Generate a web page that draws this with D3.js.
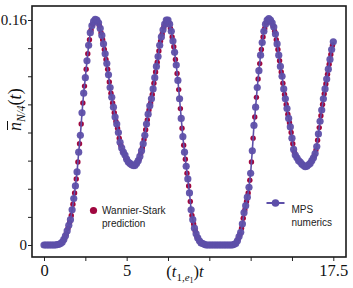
<!DOCTYPE html>
<html><head><meta charset="utf-8">
<script src="https://cdn.jsdelivr.net/npm/d3@7"></script>
<style>body{margin:0;background:#fff}svg{display:block}</style>
</head><body>
<svg id="c" width="353" height="288"></svg>
<script>
// ---- data ----
const tStep = 0.1;
const mpsStart = 0.0;
const wsStart = 0.05;
const mpsValues = [
0,0,0,0,0,0,0,0,0.0003,0.0005,
0.001,0.002,0.004,0.0065,0.010,0.014,0.018,0.025,0.033,0.042,
0.052,0.066,0.078,0.094,0.108,0.119,0.131,0.142,0.151,0.156,
0.159,0.1605,0.160,0.158,0.154,0.149,0.143,0.136,0.129,0.121,
0.112,0.105,0.098,0.091,0.086,0.080,0.073,0.069,0.066,0.064,
0.061,0.059,0.058,0.057,0.0565,0.0565,0.058,0.060,0.063,0.067,
0.072,0.078,0.086,0.093,0.099,0.104,0.111,0.119,0.127,0.134,
0.142,0.148,0.153,0.157,0.160,0.160,0.157,0.152,0.145,0.137,
0.128,0.117,0.104,0.090,0.077,0.066,0.056,0.047,0.037,0.025,
0.018,0.012,0.008,0.005,0.003,0.0015,0.001,0.0005,0,0,
0,0,0,0,0,0,0,0,0,0,
0,0,0,0,0,0.0005,0.001,0.003,0.006,0.009,
0.015,0.023,0.028,0.034,0.041,0.051,0.067,0.085,0.098,0.112,
0.124,0.135,0.144,0.152,0.157,0.160,0.161,0.160,0.158,0.155,
0.150,0.143,0.135,0.127,0.120,0.111,0.104,0.097,0.090,0.084,
0.076,0.068,0.064,0.062,0.060,0.059,0.0575,0.0565,0.0557,0.056,
0.057,0.058,0.060,0.062,0.065,0.070,0.079,0.088,0.096,0.104,
0.111,0.118,0.125,0.132,0.139,0.1445
];
const wsValues = [
0,0,0,0,0,0,0,0.0001,0.0004,0.0008,
0.0015,0.003,0.005,0.008,0.012,0.016,0.021,0.029,0.037,0.047,
0.059,0.072,0.086,0.101,0.113,0.125,0.136,0.146,0.153,0.157,
0.160,0.160,0.159,0.156,0.151,0.146,0.139,0.132,0.125,0.116,
0.108,0.101,0.094,0.088,0.083,0.076,0.071,0.067,0.065,0.062,
0.060,0.058,0.057,0.057,0.0565,0.057,0.059,0.061,0.065,0.069,
0.075,0.082,0.089,0.096,0.101,0.107,0.115,0.123,0.130,0.138,
0.145,0.150,0.155,0.158,0.160,0.158,0.154,0.148,0.141,0.132,
0.122,0.1105,0.097,0.083,0.071,0.061,0.051,0.042,0.031,0.021,
0.015,0.010,0.006,0.004,0.002,0.0012,0.0008,0.0002,0,0,
0,0,0,0,0,0,0,0,0,0,
0,0,0,0,0.0002,0.0008,0.002,0.0045,0.0075,0.012,
0.019,0.025,0.031,0.037,0.046,0.059,0.076,0.091,0.105,0.118,
0.129,0.139,0.148,0.154,0.158,0.160,0.160,0.159,0.156,0.152,
0.146,0.139,0.131,0.123,0.115,0.107,0.100,0.093,0.087,0.080,
0.072,0.066,0.063,0.061,0.0595,0.058,0.057,0.056,0.0558,0.0565,
0.0575,0.059,0.061,0.0635,0.0675,0.0745,0.0835,0.092,0.100,0.1075,
0.1145,0.1215,0.1285,0.1355,0.142
];
const xTicks = [0, 2.5, 5, 7.5, 10, 12.5, 15, 17.5];
const xTickLabels = ["0", "", "5", "", "", "", "", "17.5"];
const yTicks = [0, 0.02, 0.04, 0.06, 0.08, 0.10, 0.12, 0.14, 0.16];
const yTickLabels = ["0", "", "", "", "", "", "", "", "0.16"];
const legendLabels = [["Wannier-Stark", "prediction"], ["MPS", "numerics"]];

// ---- styles ----
const BLUE = "#5d4fa9";
const RED = "#a0073f";
const serif = "'Liberation Serif','DejaVu Serif',serif";
const sans = "'Liberation Sans',Arial,sans-serif";

const svg = d3.select("#c");
const frame = {l: 32, t: 6, r: 346, b: 257};
const x = d3.scaleLinear().domain([0, 17.5]).range([44, 333.3]);
const y = d3.scaleLinear().domain([0, 0.16]).range([245, 20]);

const mps = mpsValues.map((v, i) => ({t: mpsStart + i * tStep, v}));
const ws = wsValues.map((v, i) => ({t: wsStart + i * tStep, v}));

// axes
const xAxis = d3.axisBottom(x).tickValues(xTicks).tickSize(4).tickSizeOuter(0)
  .tickFormat((d, i) => xTickLabels[i]);
const gx = svg.append("g").attr("transform", `translate(0,${frame.b})`).call(xAxis);
gx.select(".domain").remove();
gx.selectAll("line").attr("stroke", "#222").attr("stroke-width", 1);
gx.selectAll("text").attr("font-family", serif).attr("font-size", 16.5).attr("fill", "#111").attr("dy", "0.71em").attr("y", 7);

const yAxis = d3.axisLeft(y).tickValues(yTicks).tickSize(4).tickSizeOuter(0)
  .tickFormat((d, i) => yTickLabels[i]);
const gy = svg.append("g").attr("transform", `translate(${frame.l},0)`).call(yAxis);
gy.select(".domain").remove();
gy.selectAll("line").attr("stroke", "#222").attr("stroke-width", 1);
gy.selectAll("text").attr("font-family", serif).attr("font-size", 15).attr("fill", "#111").attr("x", -5);

// frame
svg.append("rect").attr("x", frame.l).attr("y", frame.t)
  .attr("width", frame.r - frame.l).attr("height", frame.b - frame.t)
  .attr("fill", "none").attr("stroke", "#1a1a1a").attr("stroke-width", 1.6);

// data
const plot = svg.append("g");
plot.selectAll("circle.ws").data(ws).join("circle").attr("class", "ws")
  .attr("cx", d => x(d.t)).attr("cy", d => y(d.v)).attr("r", 2.7).attr("fill", RED);
plot.append("path").datum(mps)
  .attr("d", d3.line().x(d => x(d.t)).y(d => y(d.v)))
  .attr("fill", "none").attr("stroke", BLUE).attr("stroke-width", 1.6);
plot.selectAll("circle.mps").data(mps).join("circle").attr("class", "mps")
  .attr("cx", d => x(d.t)).attr("cy", d => y(d.v)).attr("r", 3.6).attr("fill", BLUE).attr("fill-opacity", 0.95);

// x title
const xt = svg.append("text").attr("x", 185).attr("y", 277).attr("text-anchor", "middle")
  .attr("font-family", serif).attr("font-size", 16.5).attr("fill", "#111");
xt.append("tspan").text("(");
xt.append("tspan").attr("font-style", "italic").text("t");
xt.append("tspan").attr("font-size", 11).attr("dy", 4).text("1,");
xt.append("tspan").attr("font-size", 11).attr("font-style", "italic").text("e");
xt.append("tspan").attr("font-size", 8).attr("dy", 2).text("1");
xt.append("tspan").attr("dy", -6).text(")");
xt.append("tspan").attr("font-style", "italic").text("t");

// y title (rotated)
const yg = svg.append("g").attr("transform", "translate(21,131) rotate(-90)");
const yt = yg.append("text").attr("x", 0).attr("y", 0)
  .attr("font-family", serif).attr("font-size", 18).attr("fill", "#111");
yt.append("tspan").attr("font-style", "italic").text("n");
yt.append("tspan").attr("font-size", 11.5).attr("font-style", "italic").attr("dy", 4).text("N/4");
yt.append("tspan").attr("dy", -4).text("(");
yt.append("tspan").attr("font-style", "italic").text("t");
yt.append("tspan").text(")");
const nW = yt.node().getSubStringLength(0, 1);
yg.append("line").attr("x1", 1).attr("x2", nW + 1).attr("y1", -13.5).attr("y2", -13.5)
  .attr("stroke", "#111").attr("stroke-width", 1);

// legend
const lg = svg.append("g").attr("font-family", sans).attr("font-size", 10).attr("fill", "#222");
lg.append("circle").attr("cx", 93.5).attr("cy", 210.5).attr("r", 3.6).attr("fill", RED);
lg.append("text").attr("x", 102).attr("y", 213.5).text(legendLabels[0][0]);
lg.append("text").attr("x", 102).attr("y", 226.5).text(legendLabels[0][1]);
lg.append("line").attr("x1", 266.5).attr("x2", 284.5).attr("y1", 203).attr("y2", 203)
  .attr("stroke", BLUE).attr("stroke-width", 2);
lg.append("circle").attr("cx", 275.5).attr("cy", 203).attr("r", 3.8).attr("fill", BLUE);
lg.append("text").attr("x", 291.5).attr("y", 212.5).text(legendLabels[1][0]);
lg.append("text").attr("x", 291.5).attr("y", 225.5).text(legendLabels[1][1]);
</script>
</body></html>
